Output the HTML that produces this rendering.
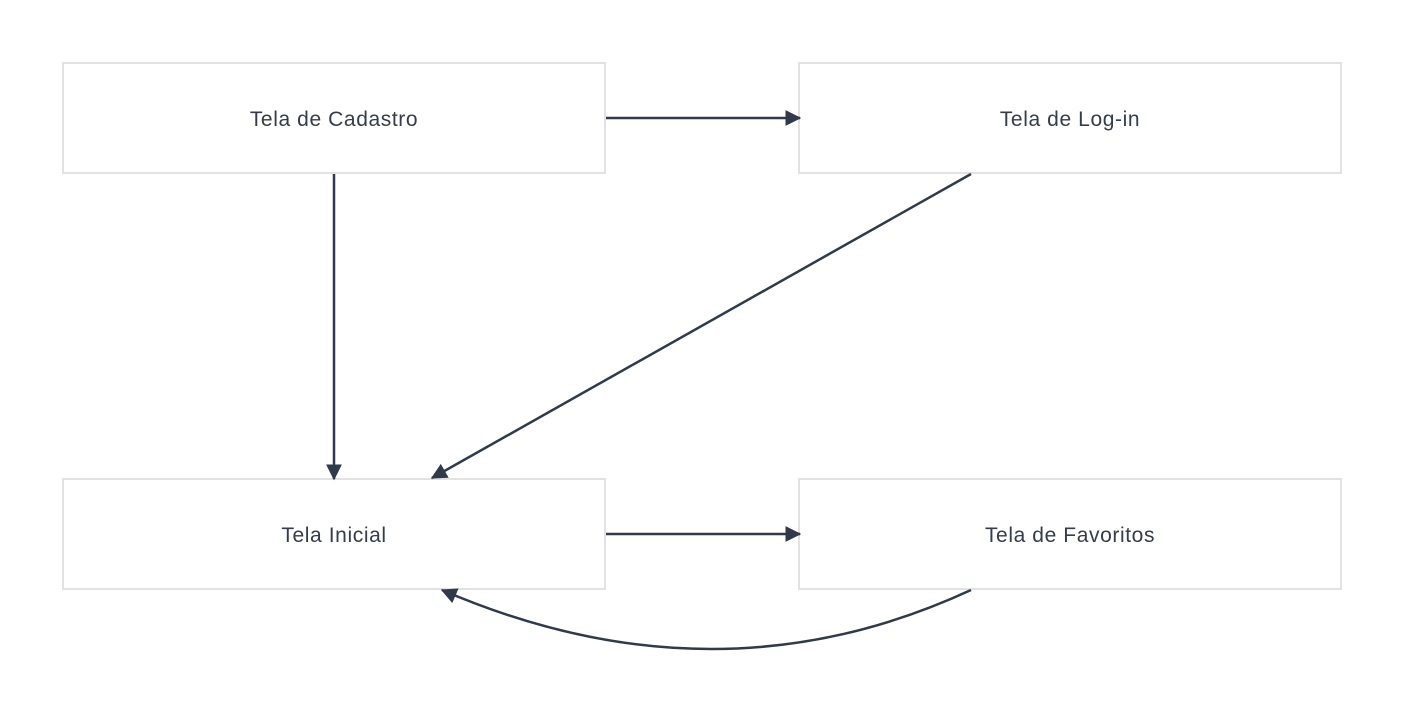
<!DOCTYPE html>
<html><head><style>
html,body{margin:0;padding:0;background:#fff;width:1404px;height:714px;overflow:hidden}
</style></head><body>
<svg width="1404" height="714" xmlns="http://www.w3.org/2000/svg">
<defs>
<marker id="h" viewBox="0 0 12 12" refX="11" refY="6" markerWidth="16" markerHeight="16" markerUnits="userSpaceOnUse" orient="auto">
<path d="M0,0 L12,6 L0,12 Z" fill="#2f3a4b"/>
</marker>
</defs>
<g fill="#fff" stroke="#e2e2e2" stroke-width="2">
<rect x="63" y="63" width="542" height="110"/>
<rect x="799" y="63" width="542" height="110"/>
<rect x="63" y="479" width="542" height="110"/>
<rect x="799" y="479" width="542" height="110"/>
</g>
<g stroke="#2f3a4b" stroke-width="2.5" fill="none" marker-end="url(#h)">
<path d="M606,118 L800,118"/>
<path d="M334,174 L334,479"/>
<path d="M971,174 L432,478"/>
<path d="M606,534 L800,534"/>
<path d="M971,590 Q716,708 442,590"/>
</g>
<g font-family="Liberation Sans, sans-serif" font-size="21" letter-spacing="0.6" fill="#333d4d" text-anchor="middle">
<text x="334" y="126">Tela de Cadastro</text>
<text x="1070" y="126">Tela de Log-in</text>
<text x="334" y="542">Tela Inicial</text>
<text x="1070" y="542">Tela de Favoritos</text>
</g>
</svg>
</body></html>
